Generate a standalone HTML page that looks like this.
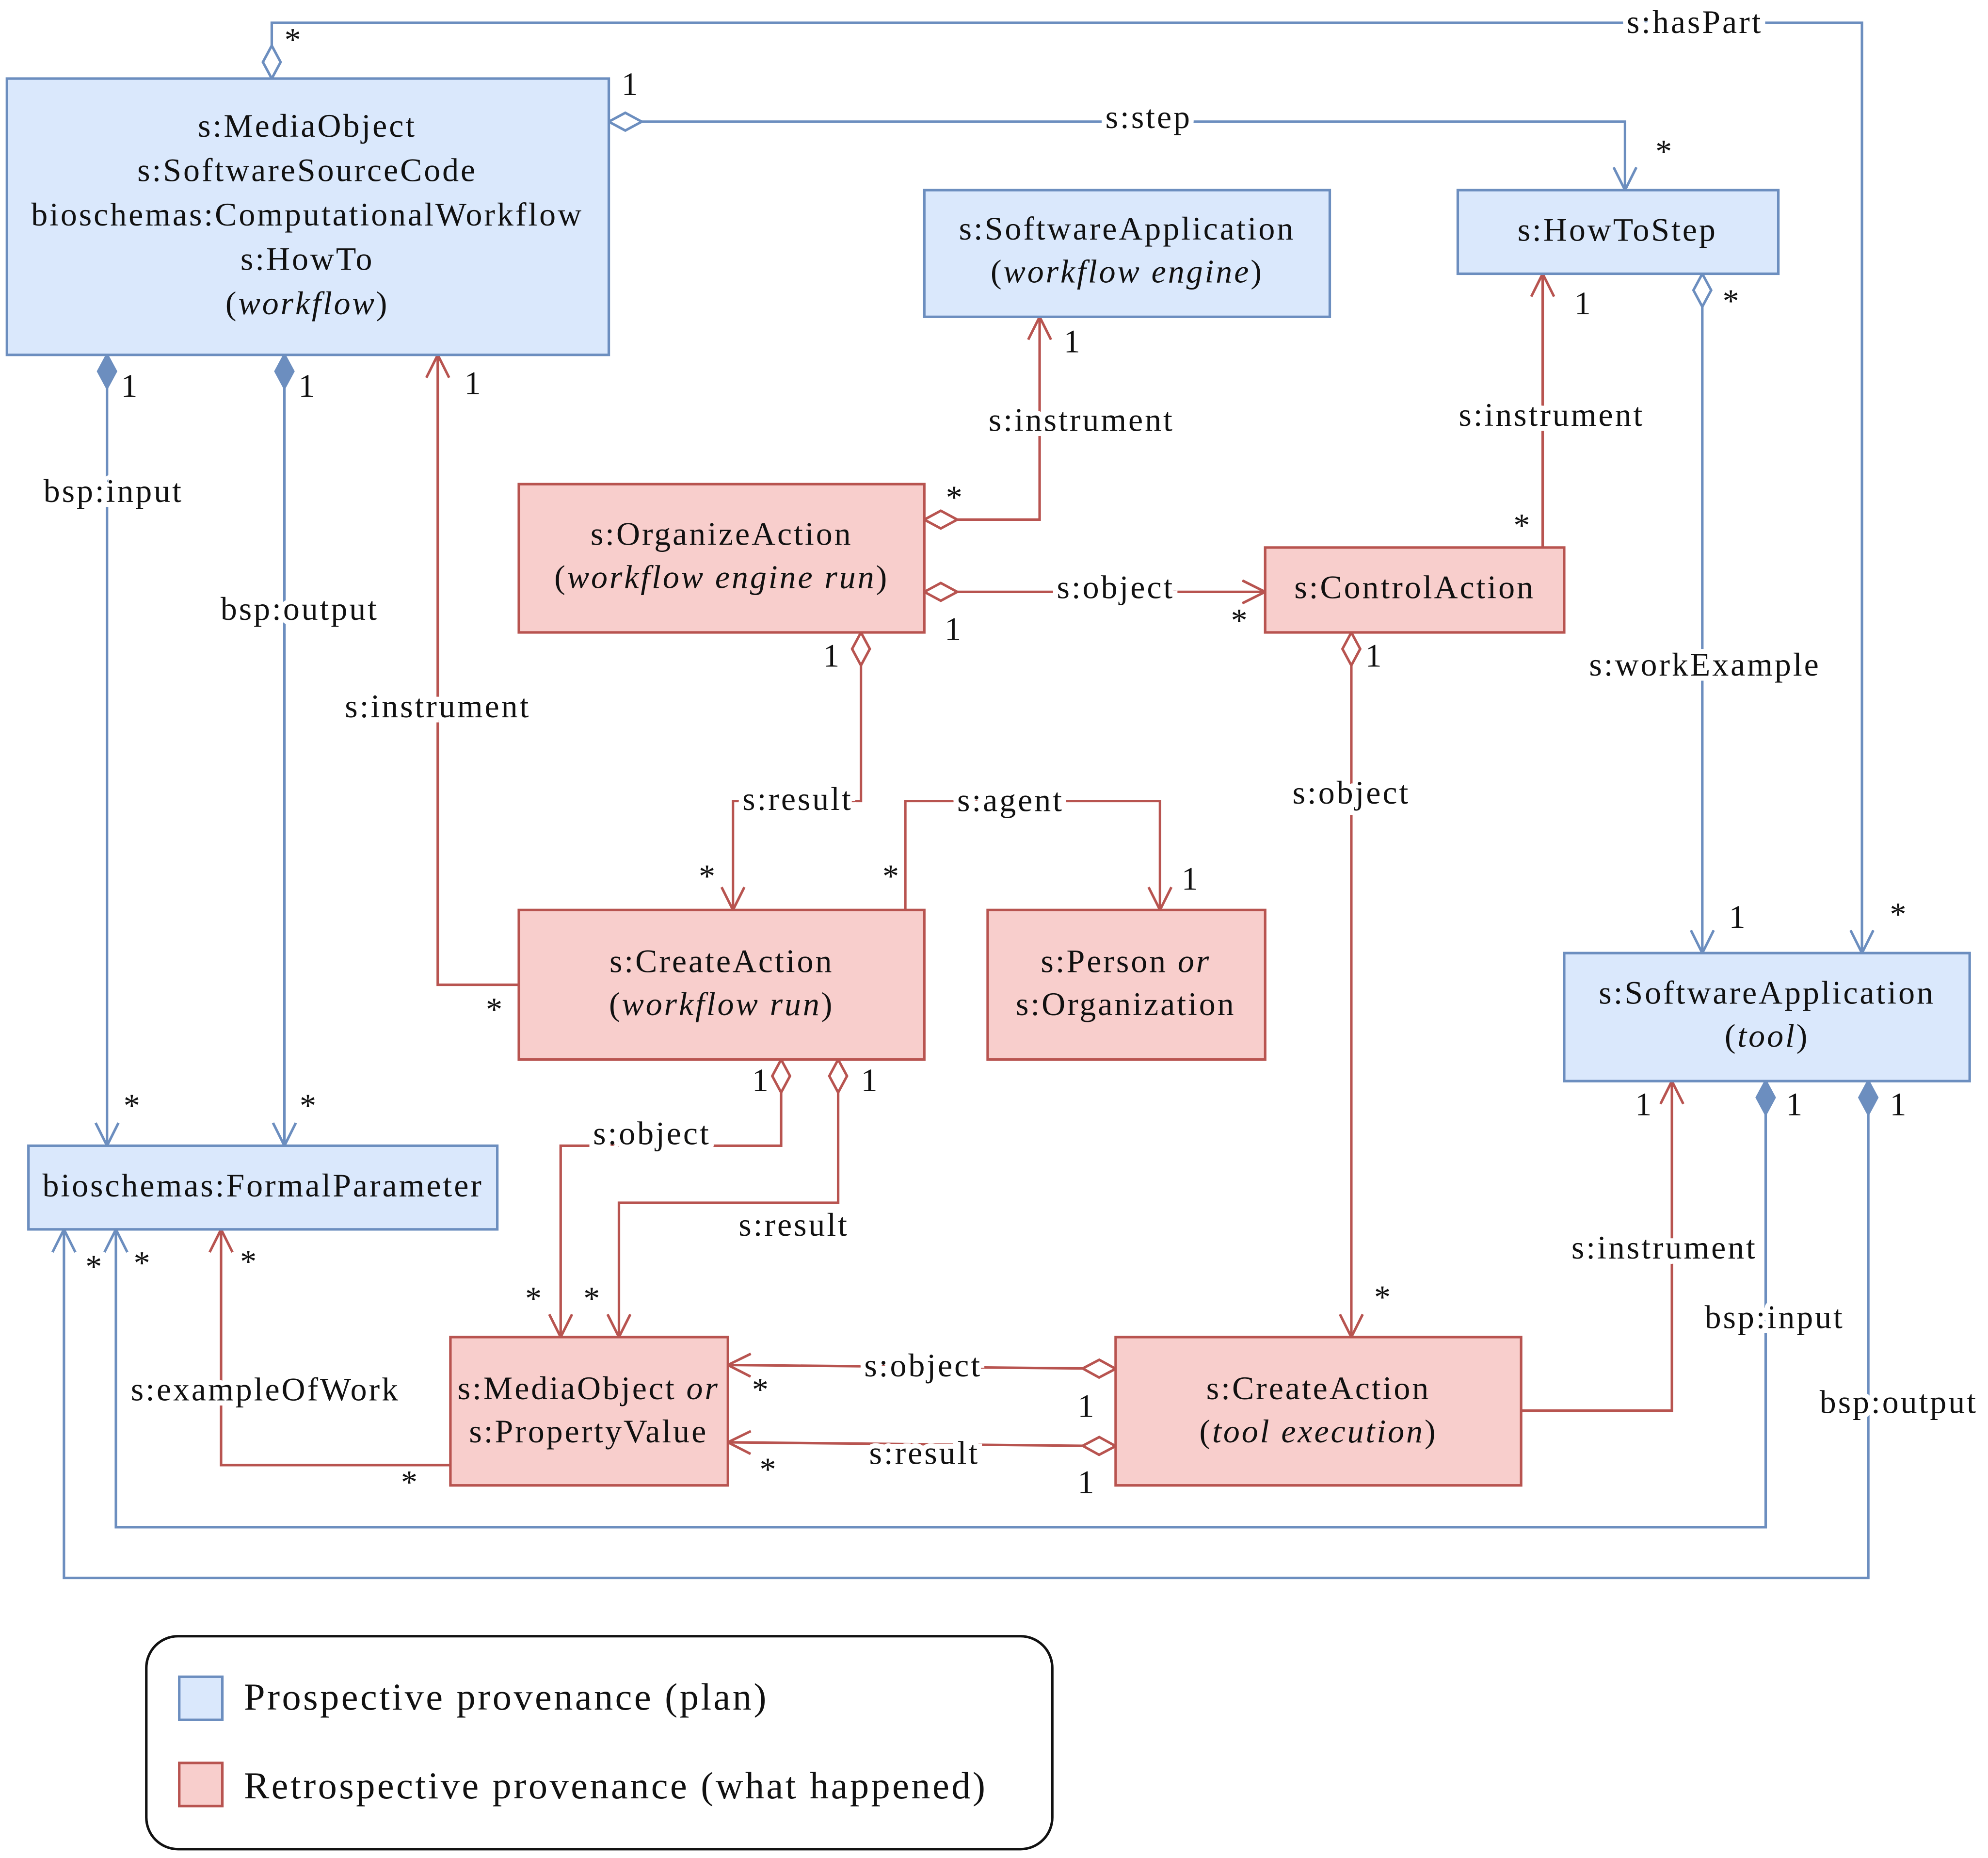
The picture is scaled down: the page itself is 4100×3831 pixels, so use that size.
<!DOCTYPE html>
<html><head><meta charset="utf-8"><style>
html,body{margin:0;padding:0;background:#fff}
svg{display:block}
text{font-family:"Liberation Serif",serif;font-size:26px;fill:#111;letter-spacing:1.5px}
.c{text-anchor:middle}
.l{paint-order:stroke;stroke:#fff;stroke-width:8px;text-anchor:middle}
.m{font-size:22px}
.b{fill:#dae8fc;stroke:#6c8ebf;stroke-width:2}
.r{fill:#f8cecc;stroke:#b85450;stroke-width:2}
.lb{fill:none;stroke:#6c8ebf;stroke-width:2}
.lr{fill:none;stroke:#b85450;stroke-width:2}
</style></head><body>
<svg width="4100" height="3831" viewBox="0 0 1568 1466" xmlns="http://www.w3.org/2000/svg">
<defs>
<marker id="dob" markerUnits="userSpaceOnUse" markerWidth="30" markerHeight="20" viewBox="-2 -10 30 20" refX="0" refY="0" orient="auto"><path d="M0,0 L13,-7 L26,0 L13,7z" fill="#fff" stroke="#6c8ebf" stroke-width="2"/></marker>
<marker id="dfb" markerUnits="userSpaceOnUse" markerWidth="30" markerHeight="20" viewBox="-2 -10 30 20" refX="0" refY="0" orient="auto"><path d="M0,0 L13,-7 L26,0 L13,7z" fill="#6c8ebf" stroke="#6c8ebf" stroke-width="2"/></marker>
<marker id="dor" markerUnits="userSpaceOnUse" markerWidth="30" markerHeight="20" viewBox="-2 -10 30 20" refX="0" refY="0" orient="auto"><path d="M0,0 L13,-7 L26,0 L13,7z" fill="#fff" stroke="#b85450" stroke-width="2"/></marker>
<marker id="ab" markerUnits="userSpaceOnUse" markerWidth="24" markerHeight="24" viewBox="-22 -12 24 24" refX="0" refY="0" orient="auto"><path d="M-18,-9 L0,0 L-18,9" fill="none" stroke="#6c8ebf" stroke-width="2"/></marker>
<marker id="ar" markerUnits="userSpaceOnUse" markerWidth="24" markerHeight="24" viewBox="-22 -12 24 24" refX="0" refY="0" orient="auto"><path d="M-18,-9 L0,0 L-18,9" fill="none" stroke="#b85450" stroke-width="2"/></marker>
</defs>

<path class="lb" d="M214,62 V18 H1469 V752" marker-start="url(#dob)" marker-end="url(#ab)"/>
<path class="lb" d="M480,96 H1282 V150" marker-start="url(#dob)" marker-end="url(#ab)"/>
<path class="lb" d="M84,280 V904" marker-start="url(#dfb)" marker-end="url(#ab)"/>
<path class="lb" d="M224,280 V904" marker-start="url(#dfb)" marker-end="url(#ab)"/>
<path class="lb" d="M1343,216 V752" marker-start="url(#dob)" marker-end="url(#ab)"/>
<path class="lb" d="M1393,853 V1205 H91 V970" marker-start="url(#dfb)" marker-end="url(#ab)"/>
<path class="lb" d="M1474,853 V1245 H50 V970" marker-start="url(#dfb)" marker-end="url(#ab)"/>

<path class="lr" d="M729,410 H820 V250" marker-start="url(#dor)" marker-end="url(#ar)"/>
<path class="lr" d="M729,467 H998" marker-start="url(#dor)" marker-end="url(#ar)"/>
<path class="lr" d="M1217,432 V216" marker-end="url(#ar)"/>
<path class="lr" d="M679,499 V632 H578 V718" marker-start="url(#dor)" marker-end="url(#ar)"/>
<path class="lr" d="M714,718 V632 H915 V718" marker-end="url(#ar)"/>
<path class="lr" d="M409,777 H345 V280" marker-end="url(#ar)"/>
<path class="lr" d="M1066,499 V1055" marker-start="url(#dor)" marker-end="url(#ar)"/>
<path class="lr" d="M616,836 V904 H442 V1055" marker-start="url(#dor)" marker-end="url(#ar)"/>
<path class="lr" d="M661,836 V949 H488 V1055" marker-start="url(#dor)" marker-end="url(#ar)"/>
<path class="lr" d="M355,1156 H174 V970" marker-end="url(#ar)"/>
<path class="lr" d="M880,1080 L574,1077" marker-start="url(#dor)" marker-end="url(#ar)"/>
<path class="lr" d="M880,1141 L574,1138" marker-start="url(#dor)" marker-end="url(#ar)"/>
<path class="lr" d="M1200,1113 H1319 V853" marker-end="url(#ar)"/>

<rect class="b" x="5" y="62" width="475" height="218"/>
<text class="c" x="242" y="108">s:MediaObject</text>
<text class="c" x="242" y="143">s:SoftwareSourceCode</text>
<text class="c" x="242" y="178">bioschemas:ComputationalWorkflow</text>
<text class="c" x="242" y="213">s:HowTo</text>
<text class="c" x="242" y="248">(<tspan font-style="italic">workflow</tspan>)</text>

<rect class="b" x="729" y="150" width="320" height="100"/>
<text class="c" x="889" y="189">s:SoftwareApplication</text>
<text class="c" x="889" y="223">(<tspan font-style="italic">workflow engine</tspan>)</text>

<rect class="b" x="1150" y="150" width="253" height="66"/>
<text class="c" x="1276" y="190">s:HowToStep</text>

<rect class="r" x="409" y="382" width="320" height="117"/>
<text class="c" x="569" y="430">s:OrganizeAction</text>
<text class="c" x="569" y="464">(<tspan font-style="italic">workflow engine run</tspan>)</text>

<rect class="r" x="998" y="432" width="236" height="67"/>
<text class="c" x="1116" y="472">s:ControlAction</text>

<rect class="r" x="409" y="718" width="320" height="118"/>
<text class="c" x="569" y="767">s:CreateAction</text>
<text class="c" x="569" y="801">(<tspan font-style="italic">workflow run</tspan>)</text>

<rect class="r" x="779" y="718" width="219" height="118"/>
<text class="c" x="888" y="767">s:Person <tspan font-style="italic">or</tspan></text>
<text class="c" x="888" y="801">s:Organization</text>

<rect class="b" x="1234" y="752" width="320" height="101"/>
<text class="c" x="1394" y="792">s:SoftwareApplication</text>
<text class="c" x="1394" y="826">(<tspan font-style="italic">tool</tspan>)</text>

<rect class="b" x="22" y="904" width="370" height="66"/>
<text class="c" x="207" y="944">bioschemas:FormalParameter</text>

<rect class="r" x="355" y="1055" width="219" height="117"/>
<text class="c" x="464" y="1104">s:MediaObject <tspan font-style="italic">or</tspan></text>
<text class="c" x="464" y="1138">s:PropertyValue</text>

<rect class="r" x="880" y="1055" width="320" height="117"/>
<text class="c" x="1040" y="1104">s:CreateAction</text>
<text class="c" x="1040" y="1138">(<tspan font-style="italic">tool execution</tspan>)</text>

<text class="l" x="1337" y="26">s:hasPart</text>
<text class="l" x="906" y="101">s:step</text>
<text class="l" x="89" y="396">bsp:input</text>
<text class="l" x="236" y="489">bsp:output</text>
<text class="l" x="1345" y="533">s:workExample</text>
<text class="l" x="1400" y="1048">bsp:input</text>
<text class="l" x="1498" y="1115">bsp:output</text>
<text class="l" x="853" y="340">s:instrument</text>
<text class="l" x="880" y="472">s:object</text>
<text class="l" x="1224" y="336">s:instrument</text>
<text class="l" x="629" y="639">s:result</text>
<text class="l" x="797" y="640">s:agent</text>
<text class="l" x="345" y="566">s:instrument</text>
<text class="l" x="1066" y="634">s:object</text>
<text class="l" x="514" y="903">s:object</text>
<text class="l" x="626" y="975">s:result</text>
<text class="l" x="209" y="1105">s:exampleOfWork</text>
<text class="l" x="728" y="1086">s:object</text>
<text class="l" x="729" y="1155">s:result</text>
<text class="l" x="1313" y="993">s:instrument</text>

<g class="m">
<text x="224" y="40">*</text><text x="1491" y="730">*</text>
<text x="490" y="75">1</text><text x="1306" y="128">*</text>
<text x="95" y="313">1</text><text x="97" y="881">*</text>
<text x="235" y="313">1</text><text x="236" y="881">*</text>
<text x="1359" y="246">*</text><text x="1364" y="732">1</text>
<text x="1409" y="880">1</text><text x="105" y="1005">*</text>
<text x="1491" y="880">1</text><text x="67" y="1008">*</text>
<text x="746" y="401">*</text><text x="839" y="278">1</text>
<text x="745" y="505">1</text><text x="971" y="498">*</text>
<text x="1194" y="423">*</text><text x="1242" y="248">1</text>
<text x="649" y="526">1</text><text x="551" y="700">*</text>
<text x="696" y="700">*</text><text x="932" y="702">1</text>
<text x="383" y="805">*</text><text x="366" y="311">1</text>
<text x="1077" y="526">1</text><text x="1084" y="1032">*</text>
<text x="593" y="861">1</text><text x="414" y="1033">*</text>
<text x="679" y="861">1</text><text x="460" y="1033">*</text>
<text x="189" y="1004">*</text><text x="316" y="1178">*</text>
<text x="593" y="1105">*</text><text x="850" y="1118">1</text>
<text x="599" y="1168">*</text><text x="850" y="1178">1</text>
<text x="1290" y="880">1</text>
</g>

<rect x="115" y="1291" width="715" height="168" rx="25" fill="#fff" stroke="#111" stroke-width="2"/>
<rect class="b" x="141" y="1323" width="34" height="34"/>
<rect class="r" x="141" y="1391" width="34" height="34"/>
<text x="192" y="1349" style="font-size:30px;letter-spacing:1.7px">Prospective provenance (plan)</text>
<text x="192" y="1419" style="font-size:30px;letter-spacing:1.7px">Retrospective provenance (what happened)</text>
</svg>
</body></html>
